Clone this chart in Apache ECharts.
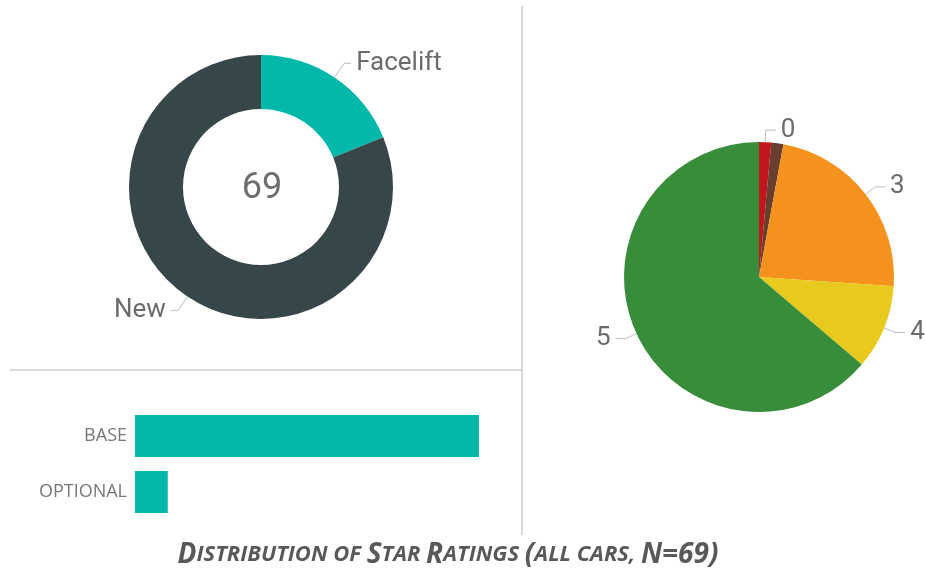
<!DOCTYPE html>
<html>
<head>
<meta charset="utf-8">
<script src="https://cdn.jsdelivr.net/npm/echarts@6/dist/echarts.min.js"></script>
<style>
  html, body { margin: 0; padding: 0; background: #fff; }
  #chart { width: 926px; height: 571px; }
</style>
</head>
<body>
<div id="chart"></div>
<script>
// model status donut
const statusNames = ['Facelift', 'New'];
const statusCounts = [13, 56];
const statusColors = ['#01B8AA', '#374649'];

// star ratings pie (starts at 12 o'clock, clockwise)
const starNames = ['0', '2', '3', '4', '5'];
const starCounts = [1, 1, 16, 7, 44];
const starColors = ['#C3161C', '#6A3E2F', '#F5921E', '#E8C91E', '#378D3A'];
const starHidden = ['2'];

// safety assist bars
const assistCats = ['BASE', 'OPTIONAL'];
const assistCounts = [63, 6];

const total = statusCounts.reduce((a, b) => a + b, 0);
const labelFont = 'Roboto';
const labelGrey = '#6b6b6b';

const chart = echarts.init(document.getElementById('chart'));

chart.setOption({
  animation: false,
  graphic: [
    // panel dividers
    { type: 'line', shape: { x1: 522, y1: 6, x2: 522, y2: 535 },
      style: { stroke: '#dadada', lineWidth: 2 } },
    { type: 'line', shape: { x1: 10, y1: 370, x2: 522, y2: 370 },
      style: { stroke: '#dadada', lineWidth: 2 } },
    // donut centre value
    { type: 'text', x: 262, y: 189,
      style: { text: String(total), fontSize: 36, fontFamily: labelFont,
               fill: '#6e6e6e', align: 'center', verticalAlign: 'middle' } },
    // caption
    { type: 'text', x: 448, y: 555,
      style: {
        text: '{b|D}{s|ISTRIBUTION OF }{b|S}{s|TAR }{b|R}{s|ATINGS }{b|(}{s|ALL CARS, }{b|N=69)}',
        align: 'center', verticalAlign: 'middle',
        rich: {
          b: { fontSize: 28, fontWeight: 'bold', fontStyle: 'italic',
               fontFamily: 'Open Sans', fill: '#595959' },
          s: { fontSize: 22, fontWeight: 'bold', fontStyle: 'italic',
               fontFamily: 'Open Sans', fill: '#595959' },
        },
      } },
  ],
  grid: { left: 135, top: 408, width: 344, height: 112 },
  xAxis: { type: 'value', min: 0, max: assistCounts[0], show: false },
  yAxis: {
    type: 'category', data: assistCats, inverse: true,
    axisLine: { show: false }, axisTick: { show: false },
    axisLabel: { color: '#777', fontSize: 18, fontFamily: 'Open Sans', margin: 8 },
  },
  series: [
    {
      type: 'pie',
      center: [261, 187],
      radius: [78, 132],
      startAngle: 90,
      clockwise: true,
      data: statusNames.map((n, i) => ({ name: n, value: statusCounts[i],
        itemStyle: { color: statusColors[i] } })),
      label: { show: true, formatter: '{b}', color: labelGrey,
               fontSize: 26, fontFamily: labelFont },
      labelLine: { show: true, length: 17, length2: 7,
                   lineStyle: { color: '#bdbdbd', width: 1 } },
    },
    {
      type: 'pie',
      center: [759, 277],
      radius: [0, 135],
      startAngle: 90,
      clockwise: true,
      data: starNames.map((n, i) => ({
        name: n, value: starCounts[i],
        itemStyle: { color: starColors[i] },
        label: { show: !starHidden.includes(n) },
        labelLine: { show: !starHidden.includes(n) },
      })),
      label: { formatter: '{b}', color: labelGrey, fontSize: 26,
               fontFamily: labelFont, overflow: 'none' },
      labelLine: { length: 12, length2: 10,
                   lineStyle: { color: '#bdbdbd', width: 1 } },
    },
    {
      type: 'bar',
      data: assistCounts,
      barWidth: 42,
      itemStyle: { color: '#01B8AA' },
    },
  ],
});
</script>
</body>
</html>
